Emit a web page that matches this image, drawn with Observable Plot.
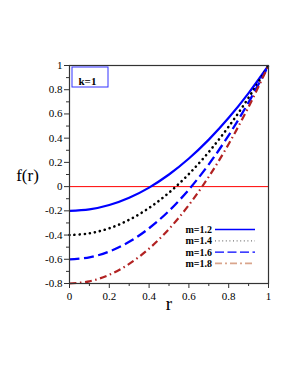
<!DOCTYPE html>
<html><head><meta charset="utf-8">
<script src="https://cdn.jsdelivr.net/npm/d3@7"></script>
<script src="https://cdn.jsdelivr.net/npm/@observablehq/plot@0.6"></script>
<style>body{margin:0;background:#fff}</style>
</head><body><div id="chart"></div>
<script>
const r = [0, 0.1, 0.2, 0.3, 0.4, 0.5, 0.6, 0.7, 0.8, 0.9, 1];
const f12 = [-0.2, -0.188, -0.152, -0.092, -0.008, 0.1, 0.232, 0.388, 0.568, 0.772, 1];
const f14 = [-0.4, -0.386, -0.344, -0.274, -0.176, -0.05, 0.104, 0.286, 0.496, 0.734, 1];
const f16 = [-0.6, -0.584, -0.536, -0.456, -0.344, -0.2, -0.024, 0.184, 0.424, 0.696, 1];
const f18 = [-0.8, -0.782, -0.728, -0.638, -0.512, -0.35, -0.152, 0.082, 0.352, 0.658, 1];
const seriesNames = ["m=1.2", "m=1.4", "m=1.6", "m=1.8"];
const xTicks = [0, 0.2, 0.4, 0.6, 0.8, 1];
const yTicks = [-0.8, -0.6, -0.4, -0.2, 0, 0.2, 0.4, 0.6, 0.8, 1];
const xMinor = [0.1, 0.3, 0.5, 0.7, 0.9];
const yMinor = [-0.7, -0.5, -0.3, -0.1, 0.1, 0.3, 0.5, 0.7, 0.9];

const styles = [
  {stroke: "#0000ff", dash: null, w: 2.2, cap: "butt"},
  {stroke: "#000000", dash: "0.1,5", w: 2.6, cap: "round"},
  {stroke: "#0000ff", dash: "10,4.5", w: 2.3, cap: "butt"},
  {stroke: "#b22222", dash: "7,3.5,1.5,3.5", w: 2.2, cap: "butt"}
];
const legendStyles = [
  {stroke: "#0000ff", dash: null, w: 1.3},
  {stroke: "#777777", dash: "1,2.6", w: 1.3},
  {stroke: "#0000ff", dash: "9,3.5", w: 1.3},
  {stroke: "#d9a58c", dash: "7,3,2,3", w: 1.8}
];
const series = [f12, f14, f16, f18];
const data = series.flatMap((vals, i) => vals.map((v, j) => ({r: r[j], f: v, s: i})));

const fmt = d => (Math.abs(d) < 1e-9 ? "0" : String(+d.toFixed(1)));
const font = "Liberation Serif, DejaVu Serif, serif";

const plot = Plot.plot({
  width: 291, height: 376,
  marginLeft: 69, marginRight: 23, marginTop: 65, marginBottom: 93,
  style: {fontFamily: font, fontSize: "11px", background: "#fff", color: "#000"},
  x: {domain: [0, 1]},
  y: {domain: [-0.8, 1]},
  marks: [
    Plot.ruleY([0], {stroke: "#ff0000", strokeWidth: 1}),
    ...series.map((vals, i) => Plot.line(data.filter(d => d.s === i), {
      x: "r", y: "f", curve: "catmull-rom",
      stroke: styles[i].stroke, strokeWidth: styles[i].w,
      strokeDasharray: styles[i].dash, strokeLinecap: styles[i].cap
    })),
    Plot.frame({stroke: "#333", strokeWidth: 1.2}),
    Plot.axisY(yTicks, {tickSize: 5, tickPadding: 2, tickFormat: fmt, label: null, stroke: "#333", fontSize: 11}),
    Plot.axisY(yMinor, {tickSize: 3, tickFormat: () => "", label: null, stroke: "#333"}),
    Plot.axisX(xTicks, {tickSize: 5, tickPadding: 4, tickFormat: fmt, label: null, stroke: "#333", fontSize: 11}),
    Plot.axisX(xMinor, {tickSize: 3, tickFormat: () => "", label: null, stroke: "#333"}),
    Plot.text(["f(r)"], {frameAnchor: "left", dx: -42, dy: 1, text: d => d, fontSize: 17, textAnchor: "middle"}),
    Plot.text(["r"], {frameAnchor: "bottom", dx: 0, dy: 26, text: d => d, fontSize: 19, textAnchor: "middle"}),
    Plot.text(["k=1"], {frameAnchor: "top-left", dx: 9, dy: 12, text: d => d, fontSize: 11, fontWeight: "bold", textAnchor: "start"})
  ]
});
document.getElementById("chart").appendChild(plot);

const svg = d3.select(plot);
// box around k=1
svg.append("rect").attr("x", 72).attr("y", 67).attr("width", 36).attr("height", 20)
  .attr("fill", "none").attr("stroke", "#3333ff").attr("stroke-width", 1);
// legend
const lg = svg.append("g").attr("font-family", font).attr("font-size", 10).attr("font-weight", "bold");
seriesNames.forEach((name, i) => {
  const y = 229.5 + i * 11.3;
  lg.append("text").attr("x", 212).attr("y", y).attr("dy", "0.35em").attr("text-anchor", "end").attr("fill", "#000").text(name);
  lg.append("line").attr("x1", 215).attr("x2", 255).attr("y1", y).attr("y2", y)
    .style("stroke", legendStyles[i].stroke).style("stroke-width", legendStyles[i].w)
    .style("stroke-dasharray", legendStyles[i].dash);
});
</script></body></html>
